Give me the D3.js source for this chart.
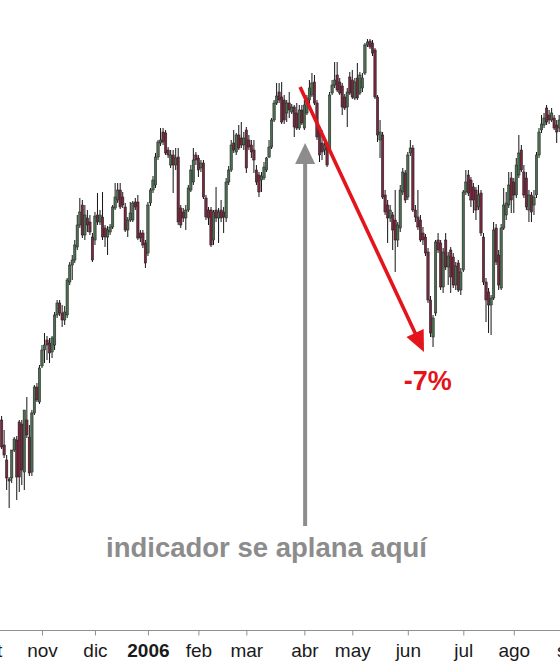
<!DOCTYPE html>
<html>
<head>
<meta charset="utf-8">
<script src="https://cdn.jsdelivr.net/npm/d3@7/dist/d3.min.js"></script>
<style>
  html, body { margin: 0; padding: 0; background: #fff; }
  svg { display: block; }
</style>
</head>
<body>
<svg id="chart" width="560" height="662"></svg>
<script>
// Daily candles, trading day 0 = 10 Oct 2005 (price units arbitrary)
const opens = [580,555,540,521,522,550,560,578,576,528,580,563,528,587,613,598,634,650,660,657,648,655,685,697,687,680,685,718,735,740,753,775,795,765,782,778,763,760,785,778,783,772,763,768,773,792,800,810,803,793,770,780,780,798,798,767,767,757,747,797,810,815,843,857,868,867,850,835,845,835,843,792,788,782,790,810,818,845,842,832,837,802,790,790,760,790,782,790,788,782,818,830,857,848,865,862,855,870,860,855,850,830,825,820,822,830,843,853,880,897,908,903,900,887,897,888,893,887,872,890,872,887,900,905,918,897,873,857,850,853,850,907,915,925,918,914,903,893,923,920,902,922,907,912,927,955,959,957,950,903,860,865,805,795,782,785,780,760,772,808,827,803,847,852,790,783,780,767,763,748,700,663,687,760,757,713,760,733,750,743,715,737,710,730,808,825,820,813,810,793,807,763,718,708,695,702,772,745,712,772,785,795,822,818,805,825,850,828,822,790,805,795,805,845,870,875,892,885,880,882,875,872];
const highs = [584,570,545,523,525,563,564,580,580,590,603,575,590,615,617,635,655,667,664,662,664,688,700,700,695,694,722,738,745,760,785,802,800,795,790,785,767,788,807,790,808,775,774,776,795,817,817,817,808,797,783,798,799,802,805,770,770,760,798,812,824,847,860,872,872,870,853,850,850,852,852,795,792,795,815,835,852,848,845,840,840,805,793,793,790,813,792,800,793,822,834,860,870,867,875,878,868,873,865,860,860,835,828,828,838,843,860,882,900,917,917,918,905,900,908,896,895,897,895,895,900,905,920,927,925,900,875,870,860,857,908,920,938,938,922,917,906,912,928,930,922,937,928,927,957,961,961,960,952,905,880,868,810,800,795,788,810,778,815,832,830,848,860,855,795,810,785,773,766,752,704,685,760,767,760,752,767,748,753,747,738,740,732,810,830,830,823,817,813,815,810,767,722,712,705,778,776,750,776,812,808,828,828,822,842,865,855,835,828,810,808,810,848,872,885,887,895,890,892,885,880,885];
const lows = [551,542,510,492,517,548,500,508,515,510,562,524,524,585,598,596,632,637,640,637,642,650,682,684,673,675,682,715,720,737,750,772,762,760,768,765,738,755,775,775,760,753,745,765,771,790,797,791,792,768,763,778,778,790,760,758,752,732,744,794,807,812,840,854,855,845,842,832,807,830,775,772,778,770,788,808,815,835,823,828,801,780,775,753,755,778,757,778,767,778,815,828,847,845,850,852,850,827,850,842,827,815,803,808,820,828,842,851,878,895,897,876,876,878,882,886,863,870,870,875,870,885,893,903,895,860,838,840,845,833,848,905,912,908,905,885,890,873,905,901,900,900,905,908,925,953,951,944,901,858,842,801,785,757,778,750,728,753,768,805,797,800,844,788,778,770,758,755,744,697,663,653,684,747,710,707,730,715,707,712,710,708,705,728,805,804,793,787,780,790,764,715,678,667,665,700,735,710,710,770,780,792,787,787,802,822,828,802,790,778,778,785,802,842,867,872,875,876,878,870,857,868];
const closes = [553,545,522,519,550,561,523,523,530,590,565,527,587,613,600,632,650,655,655,647,662,685,697,687,680,688,720,735,740,755,775,788,765,785,775,768,740,784,778,785,763,763,770,773,793,803,810,793,795,770,780,787,797,793,762,762,755,737,795,810,820,843,858,860,858,847,845,845,835,842,778,775,782,790,812,830,840,840,830,837,803,783,782,755,788,782,788,782,783,818,830,855,850,865,852,855,862,832,853,848,840,818,808,824,833,842,853,880,897,904,900,878,880,897,890,893,873,872,890,877,895,902,912,917,897,863,845,848,855,835,905,915,920,910,907,893,892,908,907,903,918,902,925,922,955,958,953,947,903,865,868,803,788,782,790,770,760,775,810,828,800,845,852,790,783,773,760,760,747,700,667,682,758,750,713,748,733,744,723,715,734,710,728,808,818,807,800,800,790,805,767,718,700,695,702,770,738,715,772,795,797,815,800,805,835,847,830,805,793,805,788,803,845,868,876,882,878,880,887,872,868,880];

// Axis: index of first trading day of each month, and its label
const monthTickIdx = [-5, 16, 37, 58, 78, 97, 120, 139, 161, 183, 203, 226];
const monthLabels = ["oct", "nov", "dic", "2006", "feb", "mar", "abr", "may", "jun", "jul", "ago", "sep"];

// Annotations in data coordinates (day index, price)
const redArrow = { from: [118.3, 913], to: [167.4, 648] };
const grayArrow = { from: [120.3, 474], to: [120.3, 857] };
const dropLabel = { text: "-7%", at: [168.9, 610] };
const noteLabel = { text: "indicador se aplana aquí", at: [105, 443] };

const W = 560, H = 662;
const svg = d3.select("#chart");

const x = d3.scaleLinear().domain([0, 221]).range([1.6, 559.2]);
const y = d3.scaleLinear().domain([370, 1000]).range([630, 0]);

const days = d3.range(opens.length).map(i => ({
  i, o: opens[i], h: highs[i], l: lows[i], c: closes[i]
}));

const UP = "#4c6e50", DOWN = "#76283e";
const bw = 2.4;

const g = svg.append("g");
g.selectAll("line.wick").data(days).join("line")
  .attr("class", "wick")
  .attr("x1", d => x(d.i)).attr("x2", d => x(d.i))
  .attr("y1", d => y(d.h)).attr("y2", d => y(d.l))
  .attr("stroke", "#151515").attr("stroke-width", 1);

g.selectAll("rect.body").data(days).join("rect")
  .attr("class", "body")
  .attr("x", d => x(d.i) - bw / 2)
  .attr("width", bw)
  .attr("y", d => y(Math.max(d.o, d.c)))
  .attr("height", d => Math.max(1, Math.abs(y(d.o) - y(d.c))))
  .attr("fill", d => d.c >= d.o ? UP : DOWN)
  .attr("stroke", "#1c1c1c").attr("stroke-width", 0.5);

// X axis
const axisY = 630;
svg.append("line")
  .attr("x1", 0).attr("x2", W).attr("y1", axisY + 0.5).attr("y2", axisY + 0.5)
  .attr("stroke", "#8f8f8f").attr("stroke-width", 1);

const axis = d3.axisBottom(x)
  .tickValues(monthTickIdx)
  .tickFormat((d, k) => monthLabels[k])
  .tickSize(5).tickSizeOuter(0).tickPadding(8);

const ax = svg.append("g").attr("transform", `translate(0,${axisY + 0.5})`).call(axis);
ax.select(".domain").remove();
ax.selectAll(".tick line").attr("stroke", "#8f8f8f");
ax.selectAll(".tick text")
  .attr("font-family", "'Liberation Sans', Arial, sans-serif")
  .attr("font-size", 19)
  .attr("fill", "#1a1a1a")
  .attr("font-weight", (d, k) => monthLabels[k] === "2006" ? "bold" : "normal");

// Arrows
const RED = "#e3141b";
function arrow(from, to, color, width, headLen, headHalf) {
  const [x1, y1] = [x(from[0]), y(from[1])];
  const [x2, y2] = [x(to[0]), y(to[1])];
  const dx = x2 - x1, dy = y2 - y1, len = Math.hypot(dx, dy);
  const ux = dx / len, uy = dy / len;
  const bx = x2 - ux * headLen, by = y2 - uy * headLen;
  svg.append("line")
    .attr("x1", x1).attr("y1", y1).attr("x2", bx + ux * 2).attr("y2", by + uy * 2)
    .attr("stroke", color).attr("stroke-width", width);
  svg.append("path")
    .attr("d", `M${x2},${y2}L${bx - uy * headHalf},${by + ux * headHalf}L${bx + uy * headHalf},${by - ux * headHalf}Z`)
    .attr("fill", color);
}
arrow(redArrow.from, redArrow.to, RED, 3.6, 21, 9.5);
arrow(grayArrow.from, grayArrow.to, "#8c8c8c", 4, 21, 10);

svg.append("text")
  .attr("x", x(dropLabel.at[0])).attr("y", y(dropLabel.at[1]))
  .attr("text-anchor", "middle")
  .attr("font-family", "'Liberation Sans', Arial, sans-serif")
  .attr("font-weight", "bold").attr("font-size", 27)
  .attr("fill", RED).text(dropLabel.text);

svg.append("text")
  .attr("x", x(noteLabel.at[0])).attr("y", y(noteLabel.at[1]))
  .attr("text-anchor", "middle")
  .attr("font-family", "'Liberation Sans', Arial, sans-serif")
  .attr("font-weight", "bold").attr("font-size", 27.5)
  .attr("fill", "#8c8c8c").text(noteLabel.text);
</script>
</body>
</html>
